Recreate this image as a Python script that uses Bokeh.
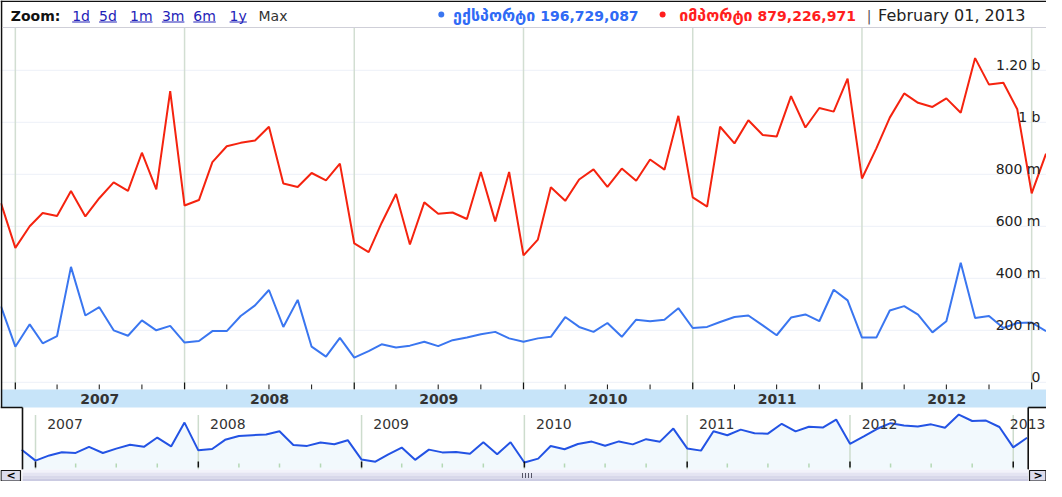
import pandas as pd
from bokeh.plotting import figure
from bokeh.models import Range1d, Span
from bokeh.core.properties import value
from bokeh.embed import file_html
from bokeh.resources import INLINE

# ---------------- data ----------------
start_month = "2006-12-01"
end_month = "2013-02-01"
# monthly values, millions
exports_m = [292,
             137, 223, 150, 178, 444, 257, 289, 200, 179, 238, 200, 217,
             153, 159, 197, 197, 255, 296, 355, 213, 317, 137, 99, 171,
             95, 120, 146, 134, 141, 156, 139, 162, 172, 185, 194, 169,
             156, 169, 175, 251, 213, 194, 228, 175, 241, 235, 241, 285,
             209, 213, 232, 251, 257, 219, 181, 249, 261, 235, 356, 315,
             172, 172, 276, 293, 260, 192, 235, 460, 247, 255, 209, 228,
             230, 196.729087]
imports_m = [689,
             517, 600, 651, 640, 736, 638, 708, 769, 736, 883, 742, 1120,
             680, 701, 847, 908, 921, 930, 983, 765, 751, 805, 777, 841,
             534, 501, 613, 724, 530, 692, 648, 653, 628, 809, 619, 809,
             488, 549, 750, 698, 780, 819, 752, 822, 775, 857, 818, 1025,
             711, 676, 983, 919, 1008, 951, 945, 1101, 980, 1055, 1041, 1168,
             784, 900, 1018, 1111, 1075, 1059, 1092, 1037, 1247, 1145, 1152, 1050,
             727, 879.226971]
series_names = ["ექსპორტი", "იმპორტი"]
latest_values = [196729087, 879226971]
y_ticks = [0, 200, 400, 600, 800, 1000, 1200]
y_tick_labels = ["0", "200 m", "400 m", "600 m", "800 m", "1 b", "1.20 b"]
band_years = [2007, 2008, 2009, 2010, 2011, 2012]
selector_years = [2007, 2008, 2009, 2010, 2011, 2012, 2013]
zoom_links = ["1d", "5d", "1m", "3m", "6m", "1y"]

# ---------------- helpers / layout ----------------
FONT = value("DejaVu Sans")
W, H = 1046, 481
HEAD_B, MAIN_T, MAIN_B, BAND_B, SEL_B = 27, 27, 389, 407, 469
SEL_L, SEL_R = 22, 1027.7
RED, BLUE = "#f5230f", "#3a76f0"


def ms(ts):
    return pd.Timestamp(ts).value / 1e6


months = pd.date_range(start_month, end_month, freq="MS")
xs = [ms(m) for m in months]
year_starts = [ms(f"{y}-01-01") for y in selector_years]
quarters = [ms(q) for q in pd.date_range("2007-01-01", "2013-01-01", freq="QS")]
quarters_minor = [q for q in quarters if q not in year_starts]

p = figure(width=W, height=H,
           x_range=Range1d(ms("2006-11-30"), ms("2013-02-02")),
           y_range=Range1d(-381.5, 1468.5),
           x_axis_type=None, y_axis_type=None,
           output_backend="svg", toolbar_location=None,
           min_border=0, outline_line_color=None,
           background_fill_color="white", border_fill_color="white")
p.extra_x_ranges = {"px": Range1d(0, W),
                    "selx": Range1d(ms("2006-10-14 12:00"), ms("2013-03-16 14:00"))}
p.extra_y_ranges = {"px": Range1d(H, 0), "sely": Range1d(186.9, 7805.0)}

PX = dict(x_range_name="px", y_range_name="px")

# ---------------- main chart ----------------
for v in y_ticks:
    p.add_layout(Span(location=v, dimension="width", line_color="#edf0f8",
                      line_width=1, level="underlay"))

p.segment(x0=year_starts, y0=[MAIN_T] * len(year_starts), x1=year_starts,
          y1=[MAIN_B] * len(year_starts), y_range_name="px",
          line_color="#d2ded2", line_width=1.5)

p.line(xs, imports_m, line_color=RED, line_width=2)
p.line(xs, exports_m, line_color=BLUE, line_width=2)

p.text(x=[p.x_range.end] * len(y_ticks), y=y_ticks, text=y_tick_labels,
       x_offset=-6, y_offset=-5, text_align="right", text_baseline="alphabetic",
       text_font=FONT, text_font_size="14px", text_color="#222222")

# bottom ticks of main chart
p.segment(x0=quarters_minor, y0=[MAIN_B] * len(quarters_minor), x1=quarters_minor,
          y1=[MAIN_B - 5] * len(quarters_minor), y_range_name="px",
          line_color="#111111", line_width=1)
p.segment(x0=year_starts, y0=[MAIN_B] * len(year_starts), x1=year_starts,
          y1=[MAIN_B - 7] * len(year_starts), y_range_name="px",
          line_color="#111111", line_width=1.2)

# ---------------- year band ----------------
p.quad(left=[0], right=[W], top=[MAIN_B], bottom=[BAND_B], fill_color="#c7e4f9",
       line_color=None, **PX)
mid_years = [ms(f"{y}-07-02") for y in band_years]
p.text(x=mid_years, y=[398] * len(mid_years), text=[str(y) for y in band_years],
       y_range_name="px", text_align="center", text_baseline="middle",
       text_font=FONT, text_font_size="14px", text_font_style="bold",
       text_color="#333333")

# ---------------- range selector ----------------
p.varea(x=xs, y1=[376.9] * len(xs), y2=imports_m, x_range_name="selx",
        y_range_name="sely", fill_color="#f2f9fd")
p.segment(x0=year_starts, y0=[414.5] * len(year_starts), x1=year_starts,
          y1=[SEL_B] * len(year_starts), x_range_name="selx", y_range_name="px",
          line_color="#cddccd", line_width=1.5)
p.line(xs, imports_m, x_range_name="selx", y_range_name="sely",
       line_color="#2353e4", line_width=2)
p.segment(x0=quarters_minor, y0=[467] * len(quarters_minor), x1=quarters_minor,
          y1=[463] * len(quarters_minor), x_range_name="selx", y_range_name="px",
          line_color="#b5d8b5", line_width=1.5)
p.segment(x0=year_starts, y0=[467] * len(year_starts), x1=year_starts,
          y1=[461] * len(year_starts), x_range_name="selx", y_range_name="px",
          line_color="#111111", line_width=1.5)
sel_label_years = selector_years[:-1]
p.text(x=year_starts[:-1], y=[423] * len(sel_label_years),
       text=[str(y) for y in sel_label_years],
       x_offset=11.7, x_range_name="selx", y_range_name="px",
       text_align="left", text_baseline="middle", text_font=FONT,
       text_font_size="14px", text_color="#333333")
# last selector year label: kept inside the canvas
p.text(x=[W - 1], y=[423], text=[str(selector_years[-1])], text_align="right",
       text_baseline="middle", text_font=FONT, text_font_size="14px",
       text_color="#333333", **PX)

# ---------------- frame borders ----------------
p.segment(x0=[0, 1, 0, SEL_L, SEL_R, SEL_R],
          y0=[0.75, 0, BAND_B, BAND_B, BAND_B, BAND_B],
          x1=[W, 1, SEL_L, SEL_L, SEL_R, W],
          y1=[0.75, BAND_B, BAND_B, SEL_B, SEL_B, BAND_B],
          line_color="#111111", line_width=1.6, **PX)
p.segment(x0=[2], y0=[HEAD_B], x1=[W], y1=[HEAD_B], line_color="#cfcfd8",
          line_width=1, **PX)

# ---------------- scrollbar ----------------
strip_cols = ["#f2f2fa", "#e4e4f2", "#d8d8ea", "#cbcbe2"]
for i, c in enumerate(strip_cols):
    p.quad(left=[SEL_L], right=[SEL_R], top=[SEL_B + 3 * i], bottom=[SEL_B + 3 * i + 3],
           fill_color=c, line_color=None, **PX)
p.quad(left=[0.5, 1029], right=[20, W - 0.5], top=[470, 470], bottom=[480.5, 480.5],
       fill_color="#dcdcec", line_color="#111111", line_width=1.2, **PX)
p.text(x=[10.5, 1037.5], y=[474.5, 474.5], text=["<", ">"], text_align="center",
       text_baseline="middle", text_font=FONT, text_font_size="11px",
       text_font_style="bold", text_color="#000000", **PX)
grip_x = [522, 525, 528, 531]
p.segment(x0=grip_x, y0=[472.5] * 4, x1=grip_x, y1=[477.5] * 4,
          line_color="#555566", line_width=1, **PX)

# ---------------- header ----------------
HY = 15
p.text(x=[10.3], y=[HY], text=["Zoom:"], text_font=FONT, text_font_size="14px",
       text_font_style="bold", text_baseline="middle", text_color="#111111", **PX)
link_x = [71.7, 98.6, 129.5, 161.4, 192.8, 229.1]
link_w = [17.8, 17.8, 22.5, 22.5, 22.5, 17.2]
p.text(x=link_x, y=[HY] * len(link_x), text=zoom_links, text_font=FONT,
       text_font_size="14px", text_baseline="middle", text_color="#2323b8", **PX)
p.segment(x0=link_x, y0=[HY + 6.5] * len(link_x),
          x1=[a + b for a, b in zip(link_x, link_w)], y1=[HY + 6.5] * len(link_x),
          line_color="#2323b8", line_width=1, **PX)
p.text(x=[258], y=[HY], text=["Max"], text_font=FONT, text_font_size="14px",
       text_baseline="middle", text_color="#333333", **PX)

num_x = [539.8, 757.1]
name_w = [86.0, 82.0]
name_right = [n - 5 for n in num_x]
dot_x = [r - w - 8 for r, w in zip(name_right, name_w)]
p.scatter(x=dot_x, y=[HY - 1, HY - 1], size=6, marker="circle",
          fill_color=[BLUE, "#ff1e1e"], line_color=None, **PX)
p.text(x=name_right, y=[HY, HY], text=series_names, text_font=FONT,
       text_font_size="16px", text_font_style="bold", text_baseline="middle",
       text_align="right", text_color=["#2f6af5", "#ff1e1e"], **PX)
p.text(x=num_x, y=[HY, HY], text=[f"{v:,}" for v in latest_values],
       text_font=FONT, text_font_size="14px", text_font_style="bold",
       text_baseline="middle", text_color=["#2f6af5", "#ff1e1e"], **PX)
p.text(x=[866.2], y=[HY], text=["|"], text_font=FONT, text_font_size="14px",
       text_baseline="middle", text_color="#555555", **PX)
p.text(x=[877.6], y=[HY], text=[months[-1].strftime("%B %d, %Y")], text_font=FONT,
       text_font_size="16px", text_baseline="middle", text_color="#222222", **PX)

open("out.html", "w").write(file_html(p, INLINE))
